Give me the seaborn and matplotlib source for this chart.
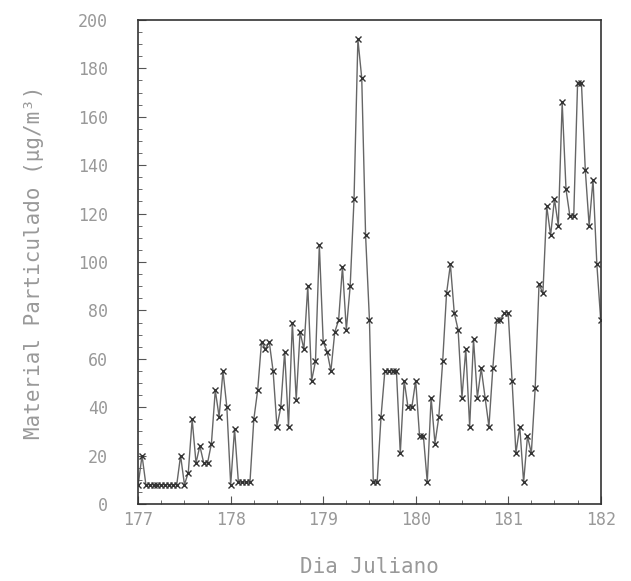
import numpy as np
import pandas as pd
import seaborn as sns
import matplotlib.pyplot as plt
from matplotlib.ticker import MultipleLocator

# hourly samples from day 177.0 to 182.0
start_day = 177
values = [
    8, 20, 8, 8, 8, 8, 8, 8, 8, 8, 8,
    20, 8, 13, 35, 17, 24, 17, 17, 25, 47, 36, 55, 40, 8, 31,
    9, 9, 9, 9,
    35, 47, 67, 64, 67, 55, 32, 40, 63, 32, 75, 43, 71, 64, 90, 51, 59,
    107, 67, 63, 55, 71, 76, 98, 72, 90, 126, 192, 176, 111, 76, 9, 9, 36,
    55, 55, 55, 55,
    21, 51, 40, 40, 51, 28, 28, 9, 44, 25, 36, 59, 87, 99, 79, 72, 44, 64,
    32, 68, 44, 56, 44, 32, 56, 76, 76, 79, 79, 51, 21, 32, 9, 28, 21, 48,
    91, 87, 123, 111, 126, 115, 166, 130, 119, 119, 174, 174, 138, 115, 134,
    99, 76,
]
days = [start_day + i / 24 for i in range(len(values))]

df = pd.DataFrame({"dia": days, "mp": values})

sns.set_style("ticks")
plt.rcParams["font.family"] = ["DejaVu Sans Mono", "DejaVu Sans"]

fig = plt.figure(figsize=(6.31, 5.81), dpi=100)
ax = fig.add_axes([0.219, 0.1325, 0.733, 0.8331])

sns.lineplot(data=df, x="dia", y="mp", ax=ax, color="#666666", linewidth=1.0,
             marker="x", markersize=4, markeredgecolor="#333333",
             markeredgewidth=1.0)

ax.set_xlim(177, 182)
ax.set_ylim(0, 200)
ax.xaxis.set_major_locator(MultipleLocator(1))
ax.xaxis.set_minor_locator(MultipleLocator(0.25))
ax.yaxis.set_major_locator(MultipleLocator(20))
ax.yaxis.set_minor_locator(MultipleLocator(5))

ax.tick_params(axis="both", which="both", direction="in", colors="#555555",
               labelcolor="#999999", labelsize=12)
ax.tick_params(axis="both", which="major", length=6)
ax.tick_params(axis="both", which="minor", length=3)
ax.tick_params(axis="y", pad=22)
ax.tick_params(axis="x", pad=5)

for s in ax.spines.values():
    s.set_color("#333333")
    s.set_linewidth(1.2)

ax.set_xlabel("Dia Juliano", fontsize=15, color="#999999", labelpad=20)
ax.set_ylabel("Material Particulado (µg/m³)", fontsize=15, color="#999999",
              labelpad=24)

fig.savefig("out.png", dpi=100)
